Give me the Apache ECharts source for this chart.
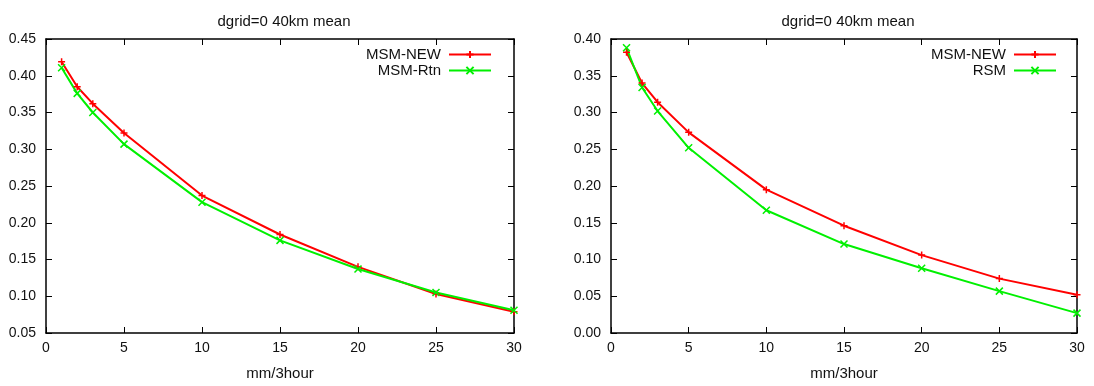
<!DOCTYPE html>
<html>
<head>
<meta charset="utf-8">
<script src="https://cdn.jsdelivr.net/npm/echarts@6/dist/echarts.min.js"></script>
<style>
  html, body { margin: 0; padding: 0; background: #fff; }
  #chart { width: 1094px; height: 386px; }
</style>
</head>
<body>
<div id="chart"></div>
<script>
const xVals = [1, 2, 3, 5, 10, 15, 20, 25, 30];
const leftNew = [0.419, 0.385, 0.362, 0.322, 0.237, 0.184, 0.140, 0.103, 0.079];
const leftRtn = [0.411, 0.376, 0.350, 0.307, 0.228, 0.176, 0.137, 0.105, 0.081];
const rightNew = [0.382, 0.340, 0.314, 0.273, 0.195, 0.146, 0.106, 0.074, 0.052];
const rightRsm = [0.388, 0.334, 0.302, 0.252, 0.167, 0.121, 0.088, 0.057, 0.027];
const titleText = 'dgrid=0 40km mean';
const xName = 'mm/3hour';

const FONT = "'Liberation Sans', Arial, sans-serif";
const TXT = '#111';
const PLUS = 'path://M5,0L5,10M0,5L10,5';
const CROSS = 'path://M0,0L10,10M0,10L10,0';

const pairs = (ys) => xVals.map((x, i) => [x, ys[i]]);

function xAxes(grid, pos, labels) {
  return {
    type: 'value', gridIndex: grid, position: pos, min: 0, max: 30, interval: 5,
    name: labels ? xName : '', nameLocation: 'middle', nameGap: 33,
    nameTextStyle: { color: TXT, fontFamily: FONT, fontSize: 15 },
    axisLine: { show: true, onZero: false, lineStyle: { color: '#000', width: 1.5 } },
    axisTick: { show: true, inside: true, length: 6, lineStyle: { color: '#000' } },
    axisLabel: { show: labels, margin: 8, color: TXT, fontFamily: FONT, fontSize: 14 },
    splitLine: { show: false }
  };
}

function yAxes(grid, pos, labels, min, max) {
  return {
    type: 'value', gridIndex: grid, position: pos, min: min, max: max, interval: 0.05,
    axisLine: { show: true, onZero: false, lineStyle: { color: '#000', width: 1.5 } },
    axisTick: { show: true, inside: true, length: 6, lineStyle: { color: '#000' } },
    axisLabel: { show: labels, margin: 10, color: TXT, fontFamily: FONT, fontSize: 14,
      formatter: v => v.toFixed(2) },
    splitLine: { show: false }
  };
}

function line(name, ys, xi, yi, color, sym) {
  return {
    name: name, type: 'line', xAxisIndex: xi, yAxisIndex: yi,
    data: pairs(ys), symbol: sym, symbolSize: 7, showSymbol: true,
    lineStyle: { color: color, width: 2 },
    itemStyle: { color: color, borderColor: color, borderWidth: 1.5 },
    emphasis: { disabled: true }
  };
}

function legend(names, right) {
  return {
    data: names, orient: 'vertical', align: 'right', right: right, top: 47,
    padding: 0, itemWidth: 42, itemHeight: 9, itemGap: 1,
    textStyle: { color: TXT, fontFamily: FONT, fontSize: 15, padding: [0, 3, 0, 0] }
  };
}

const chart = echarts.init(document.getElementById('chart'));
chart.setOption({
  animation: false,
  textStyle: { fontFamily: FONT },
  title: [
    { text: titleText, left: 279, top: 9, textAlign: 'center',
      textStyle: { fontSize: 15, fontWeight: 'normal', color: TXT, fontFamily: FONT } },
    { text: titleText, left: 843, top: 9, textAlign: 'center',
      textStyle: { fontSize: 15, fontWeight: 'normal', color: TXT, fontFamily: FONT } }
  ],
  legend: [
    legend(['MSM-NEW', 'MSM-Rtn'], 1094 - 492),
    legend(['MSM-NEW', 'RSM'], 1094 - 1057)
  ],
  grid: [
    { left: 46, right: 580, top: 39, bottom: 49 },
    { left: 611, right: 17, top: 39, bottom: 49 }
  ],
  xAxis: [
    xAxes(0, 'bottom', true), xAxes(0, 'top', false),
    xAxes(1, 'bottom', true), xAxes(1, 'top', false)
  ],
  yAxis: [
    yAxes(0, 'left', true, 0.05, 0.45), yAxes(0, 'right', false, 0.05, 0.45),
    yAxes(1, 'left', true, 0, 0.40), yAxes(1, 'right', false, 0, 0.40)
  ],
  series: [
    line('MSM-NEW', leftNew, 0, 0, '#ff0000', PLUS),
    line('MSM-Rtn', leftRtn, 0, 0, '#00f000', CROSS),
    line('MSM-NEW', rightNew, 2, 2, '#ff0000', PLUS),
    line('RSM', rightRsm, 2, 2, '#00f000', CROSS)
  ]
});
</script>
</body>
</html>
